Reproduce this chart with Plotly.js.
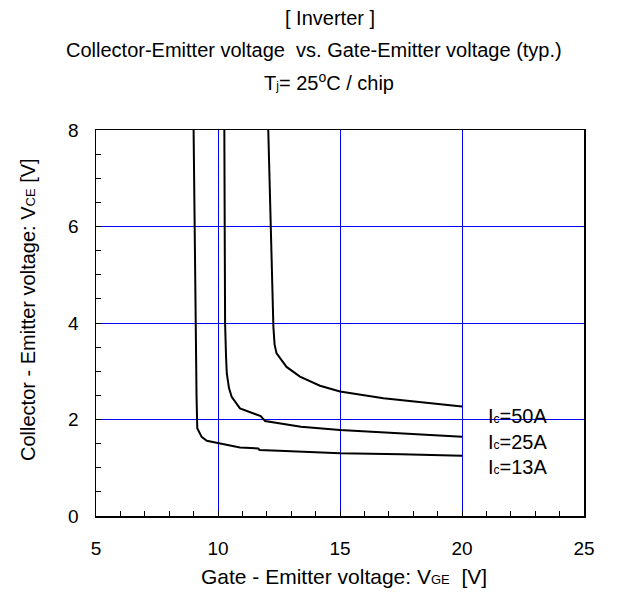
<!DOCTYPE html>
<html>
<head>
<meta charset="utf-8">
<script src="https://cdn.plot.ly/plotly-3.0.1.min.js"></script>
<style>html,body{margin:0;padding:0;background:#fff}#chart{width:627px;height:606px}</style>
</head>
<body>
<div id="chart"></div>
<script>
// Ic = 13 A
var vge13 = [9.00, 9.06, 9.12, 9.15, 9.33, 9.54, 10.0, 10.9, 11.65, 11.7, 12.5, 13.4, 15.0, 17.5, 20.0];
var vce13 = [8.0, 4.75, 2.5, 1.82, 1.64, 1.56, 1.51, 1.42, 1.40, 1.37, 1.35, 1.33, 1.30, 1.28, 1.25];
// Ic = 25 A
var vge25 = [10.26, 10.29, 10.33, 10.36, 10.45, 10.56, 10.9, 11.59, 11.75, 11.93, 13.4, 15.0, 17.5, 20.0];
var vce25 = [8.0, 4.0, 3.3, 2.96, 2.65, 2.47, 2.23, 2.09, 2.07, 1.97, 1.85, 1.78, 1.71, 1.64];
// Ic = 50 A
var vge50 = [12.06, 12.15, 12.27, 12.32, 12.4, 12.81, 13.36, 14.18, 15.0, 16.78, 18.5, 20.0];
var vce50 = [8.0, 6.0, 3.92, 3.55, 3.37, 3.09, 2.89, 2.70, 2.58, 2.44, 2.35, 2.27];

var seriesLabels = ['I<span style="font-size:12px">c</span>=50A', 'I<span style="font-size:12px">c</span>=25A', 'I<span style="font-size:12px">c</span>=13A'];
var labelX = [21.0, 21.0, 21.0];
var labelY = [2.07, 1.54, 1.02];

var titleLines = ['[ Inverter ]', 'Collector-Emitter voltage  vs. Gate-Emitter voltage (typ.)', 'T<span style="font-size:12px">j</span>= 25<sup>o</sup>C / chip'];
var xTitle = 'Gate - Emitter voltage: V<span style="font-size:13px">GE</span>  [V]';
var yTitle = 'Collector - Emitter voltage: V<span style="font-size:13px">CE</span> [V]';

var FONT = 'Liberation Sans, Arial, sans-serif';
var lineStyle = {color: '#000', width: 2};
var traces = [
  {x: vge13, y: vce13, mode: 'lines', line: lineStyle, hoverinfo: 'skip'},
  {x: vge25, y: vce25, mode: 'lines', line: lineStyle, hoverinfo: 'skip'},
  {x: vge50, y: vce50, mode: 'lines', line: lineStyle, hoverinfo: 'skip'}
];

var W = 627, H = 606, mt = 130, mb = 90, ml = 96, mr = 43;
var ph = H - mt - mb, pw = W - ml - mr;
function py(pix) { return (H - mb - pix) / ph; }
function px(pix) { return (pix - ml) / pw; }

var annotations = [];
var titleY = [18, 50, 81];
var titleX = [330, 314, 329];
titleLines.forEach(function (t, i) {
  annotations.push({text: t, xref: 'paper', yref: 'paper', x: px(titleX[i]), y: py(titleY[i]),
    xanchor: 'center', yanchor: 'middle', showarrow: false, font: {family: FONT, size: 20, color: '#000'}});
});
seriesLabels.forEach(function (t, i) {
  annotations.push({text: t, xref: 'x', yref: 'y', x: labelX[i], y: labelY[i],
    xanchor: 'left', yanchor: 'middle', showarrow: false, font: {family: FONT, size: 20, color: '#000'}});
});
annotations.push({text: xTitle, xref: 'paper', yref: 'paper', x: px(344), y: py(576),
  xanchor: 'center', yanchor: 'middle', showarrow: false, font: {family: FONT, size: 21, color: '#000'}});
annotations.push({text: yTitle, xref: 'paper', yref: 'paper', x: px(28), y: py(310),
  xanchor: 'center', yanchor: 'middle', textangle: -90, showarrow: false, font: {family: FONT, size: 20, color: '#000'}});

var layout = {
  width: W, height: H,
  margin: {l: ml, r: mr, t: mt, b: mb, pad: 0},
  paper_bgcolor: '#fff', plot_bgcolor: '#fff',
  showlegend: false,
  font: {family: FONT, size: 18, color: '#000'},
  xaxis: {
    range: [5, 25], dtick: 5, tick0: 5, ticks: 'inside', ticklen: 5, tickcolor: '#000',
    showline: true, linecolor: '#000', linewidth: 1.5, mirror: true,
    showgrid: true, gridcolor: '#0000ff', gridwidth: 1, zeroline: false,
    ticklabelstandoff: 15,
    minor: {dtick: 1, ticks: 'inside', ticklen: 5, tickcolor: '#000'},
    tickfont: {family: FONT, size: 19, color: '#000'}
  },
  yaxis: {
    range: [0, 8], dtick: 2, tick0: 0, ticks: 'inside', ticklen: 5, tickcolor: '#000',
    showline: true, linecolor: '#000', linewidth: 1.5, mirror: true,
    showgrid: true, gridcolor: '#0000ff', gridwidth: 1, zeroline: false,
    ticklabelstandoff: 12,
    minor: {dtick: 0.5, ticks: 'inside', ticklen: 5, tickcolor: '#000'},
    tickfont: {family: FONT, size: 19, color: '#000'}
  },
  annotations: annotations
};

Plotly.newPlot('chart', traces, layout, {staticPlot: true, displayModeBar: false});
</script>
</body>
</html>
